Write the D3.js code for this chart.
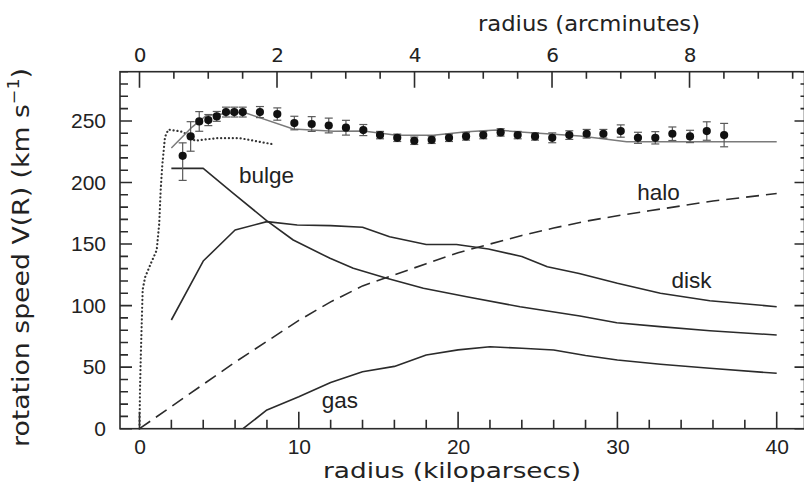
<!DOCTYPE html>
<html><head><meta charset="utf-8">
<script src="https://cdn.jsdelivr.net/npm/d3@7"></script>
<style>body{margin:0;background:#fff}</style>
</head><body>
<svg id="c" width="804" height="504"></svg>
<script>
// ---- tick labels ----
const kpcTicks = [0, 10, 20, 30, 40];
const velTicks = [0, 50, 100, 150, 200, 250];
const arcTicks = [0, 2, 4, 6, 8];

// ---- observed rotation speeds (kpc, km/s) ----
const obsR = [2.71, 3.21, 3.75, 4.32, 4.85, 5.43, 5.95, 6.48, 7.56, 8.65, 9.72, 10.81, 11.88, 12.96, 14.05, 15.10, 16.18, 17.25, 18.34, 19.43, 20.50, 21.58, 22.67, 23.74, 24.83, 25.91, 26.98, 28.07, 29.12, 30.21, 31.29, 32.38, 33.45, 34.56, 35.61, 36.70];
const obsV = [221.7, 237.4, 249.6, 250.7, 253.7, 257.2, 257.2, 257.2, 257.2, 255.6, 248.3, 247.5, 246.3, 244.5, 242.6, 238.5, 236.3, 233.9, 234.7, 236.3, 237.4, 238.5, 240.7, 238.5, 237.4, 236.3, 238.5, 239.6, 239.6, 241.8, 236.3, 236.3, 239.6, 237.4, 241.8, 238.5];
const obsErrHi = [10.5, 12, 8, 4.5, 4, 4, 4, 4, 4.5, 5, 5.5, 6, 6, 6, 4.5, 3, 3, 3, 3, 3, 3, 3, 3, 3, 3, 4, 3.5, 3.5, 3.5, 5, 4.5, 5, 5.5, 5, 7.5, 9.5];
const obsErrLo = [20, 12, 8, 4.5, 4, 4, 4, 4, 4.5, 5, 5.5, 6, 6, 6, 4.5, 3, 3, 3, 3, 3, 3, 3, 3, 3, 3, 4, 3.5, 3.5, 3.5, 5, 4.5, 5, 5.5, 5, 7.5, 9.5];

// ---- model curves ----
const totalR = [2.0, 3.3, 4.2, 6.5, 9.65, 12.2, 14.05, 16.15, 18.44, 20.54, 22.42, 23.68, 25.77, 27.65, 29.33, 30.58, 40.0];
const totalV = [228, 245, 254.5, 257.2, 243.5, 241.6, 241.8, 238.3, 238.3, 241.3, 242.6, 241.3, 239.4, 237.8, 235.1, 233.1, 233.1];

const dottedR = [0, 0.03, 0.08, 0.14, 0.2, 0.35, 0.77, 1.08, 1.24, 1.33, 1.43, 1.6, 1.81, 2.34, 2.75, 3.48, 4.85, 6.31, 8.4];
const dottedV = [0, 31, 58, 86, 113, 123, 136, 145, 167, 194, 214, 237, 243, 242, 241, 234, 236, 236, 231];

const bulgeR = [2.0, 4.0, 5.89, 7.98, 9.65, 11.96, 13.42, 15.52, 17.82, 20.54, 23.89, 27.65, 29.96, 32.67, 35.81, 40.0];
const bulgeV = [211.5, 211.5, 191.2, 169.1, 153.3, 138.4, 130.3, 122.2, 114.1, 107.2, 99.1, 91.6, 86.1, 82.9, 79.6, 76.1];

const diskR = [2.0, 4.0, 6.0, 8.0, 9.9, 12.0, 14.0, 15.7, 18.0, 19.9, 21.9, 24.0, 25.6, 27.6, 30.0, 32.7, 35.8, 40.0];
const diskV = [88.3, 136.2, 161.4, 168.2, 165.5, 165.0, 163.6, 156.0, 149.6, 149.6, 146, 139.9, 131.6, 126.1, 118.1, 110, 104, 99.1];

const gasR = [6.5, 8.0, 10.0, 12.0, 14.0, 16.0, 18.0, 20.0, 22.0, 24.0, 26.0, 28.0, 30.0, 32.7, 35.8, 40.0];
const gasV = [0, 15.2, 26, 37.5, 46.3, 50.6, 59.9, 64.0, 66.6, 65.3, 63.9, 59.5, 55.8, 52.3, 49.1, 45];

const haloR = [0, 2, 4, 6, 8, 10, 12, 14, 16, 18, 20, 22, 24, 26, 28, 30, 32, 34, 36, 38, 40];
const haloV = [0, 18, 36, 54, 71, 88, 103, 116, 125, 134, 143, 150, 157, 163, 168.5, 173, 177, 181, 185, 188, 191];

const compNames = ["bulge", "disk", "halo", "gas"];
const compLabelR = [6.25, 33.4, 31.25, 11.44];
const compLabelV = [199.6, 114, 185.6, 16.6];

const kpcPerArcmin = 4.316;

// ---- layout ----
const svg = d3.select("#c");
const L = 120, R = 804.5, T = 71.7, B = 428.7;
const x = d3.scaleLinear().domain([0, 40]).range([139.5, 776.7]);
const y = d3.scaleLinear().domain([0, 290]).range([B, T]);
const xa = d3.scaleLinear().domain([0, 40 / kpcPerArcmin]).range([139.5, 776.7]);

const ink = "#2b2b2b";
const tickFont = "'Liberation Sans', Arial, sans-serif";
const titleFont = "'DejaVu Sans', sans-serif";

// frame
svg.append("rect").attr("x", L).attr("y", T).attr("width", R - L).attr("height", B - T)
  .attr("fill", "none").attr("stroke", ink).attr("stroke-width", 1.6);

// tick marks (drawn inward, from the scales) as one path
const kpcMinor = d3.range(0, 41, 2).filter(d => d % 10 !== 0);
const velMinor = d3.range(0, 291, 10).filter(d => d % 50 !== 0);
const arcMinor = d3.range(0.5, 9.6, 0.5).filter(d => d % 2 !== 0);
const tp = d3.path();
function tickMarks(vals, scale, side, len) {
  vals.forEach(v => {
    const p = scale(v);
    if (side === "bottom") { tp.moveTo(p, B); tp.lineTo(p, B - len); }
    else if (side === "top") { tp.moveTo(p, T); tp.lineTo(p, T + len); }
    else if (side === "left") { tp.moveTo(L, p); tp.lineTo(L + len, p); }
    else { tp.moveTo(R, p); tp.lineTo(R - len, p); }
  });
}
tickMarks(kpcMinor, x, "bottom", 9);
tickMarks(kpcTicks, x, "bottom", 17);
tickMarks(velMinor, y, "left", 8);
tickMarks(velTicks, y, "left", 12);
tickMarks(velMinor, y, "right", 4);
tickMarks(velTicks, y, "right", 10);
tickMarks(arcMinor, xa, "top", 7);
tickMarks(arcTicks, xa, "top", 16);
svg.append("path").attr("d", tp.toString()).attr("fill", "none")
  .attr("stroke", ink).attr("stroke-width", 1.6);

// tick labels via d3 axes
function labelsOnly(g, font, size) {
  g.select(".domain").remove();
  g.selectAll(".tick line").remove();
  g.selectAll("text").attr("font-family", font).attr("font-size", size).attr("fill", "#222");
}
svg.append("g").attr("transform", `translate(0,${B})`)
  .call(d3.axisBottom(x).tickValues(kpcTicks).tickSize(0).tickPadding(10).tickFormat(d3.format("d")))
  .call(g => labelsOnly(g, tickFont, 21));
svg.append("g").attr("transform", `translate(${L},0)`)
  .call(d3.axisLeft(y).tickValues(velTicks).tickSize(0).tickPadding(14).tickFormat(d3.format("d")))
  .call(g => labelsOnly(g, tickFont, 21));
svg.append("g").attr("transform", `translate(0,${T})`)
  .call(d3.axisTop(xa).tickValues(arcTicks).tickSize(0).tickPadding(10).tickFormat(d3.format("d")))
  .call(g => labelsOnly(g, titleFont, 20));

// curves
const line = d3.line().x(d => x(d[0])).y(d => y(d[1]));
const zip = (a, b) => a.map((v, i) => [v, b[i]]);

svg.append("path").datum(zip(haloR, haloV)).attr("d", line)
  .attr("fill", "none").attr("stroke", ink).attr("stroke-width", 1.6).attr("stroke-dasharray", "13,7");
svg.append("path").datum(zip(dottedR, dottedV)).attr("d", line)
  .attr("fill", "none").attr("stroke", "#333").attr("stroke-width", 2.2).attr("stroke-linecap", "round").attr("stroke-dasharray", "0.1,3.8");
for (const [r, v] of [[bulgeR, bulgeV], [diskR, diskV], [gasR, gasV]]) {
  svg.append("path").datum(zip(r, v)).attr("d", line)
    .attr("fill", "none").attr("stroke", ink).attr("stroke-width", 1.6).attr("stroke-linejoin", "round");
}
svg.append("path").datum(zip(totalR, totalV)).attr("d", line)
  .attr("fill", "none").attr("stroke", "#7a7a7a").attr("stroke-width", 1.5);

// observations
const obs = obsR.map((r, i) => ({ r, v: obsV[i], hi: obsErrHi[i], lo: obsErrLo[i] }));
const eg = svg.append("g").attr("stroke", "#5a5a5a").attr("stroke-width", 1.2);
obs.forEach(d => {
  const cx = x(d.r), y1 = y(d.v + d.hi), y2 = y(d.v - d.lo);
  eg.append("line").attr("x1", cx).attr("x2", cx).attr("y1", y1).attr("y2", y2);
  eg.append("line").attr("x1", cx - 4).attr("x2", cx + 4).attr("y1", y1).attr("y2", y1);
  eg.append("line").attr("x1", cx - 4).attr("x2", cx + 4).attr("y1", y2).attr("y2", y2);
});
svg.append("g").selectAll("circle").data(obs).join("circle")
  .attr("cx", d => x(d.r)).attr("cy", d => y(d.v)).attr("r", 4.1).attr("fill", "#111");

// component labels
svg.append("g").selectAll("text").data(compNames).join("text")
  .attr("x", (d, i) => x(compLabelR[i])).attr("y", (d, i) => y(compLabelV[i]))
  .attr("font-family", tickFont).attr("font-size", 22.5).attr("fill", "#222").text(d => d);

// axis titles
svg.append("text").attr("x", 452).attr("y", 478).attr("text-anchor", "middle")
  .attr("font-family", titleFont).attr("font-size", 22).attr("fill", "#222")
  .attr("textLength", 258).attr("lengthAdjust", "spacingAndGlyphs").text("radius (kiloparsecs)");
svg.append("text").attr("x", 589).attr("y", 31).attr("text-anchor", "middle")
  .attr("font-family", titleFont).attr("font-size", 22).attr("fill", "#222")
  .attr("textLength", 222).attr("lengthAdjust", "spacingAndGlyphs").text("radius (arcminutes)");
const yt = svg.append("text").attr("transform", "translate(29,257.5) rotate(-90)").attr("text-anchor", "middle")
  .attr("font-family", titleFont).attr("font-size", 23).attr("fill", "#222")
  .attr("textLength", 379).attr("lengthAdjust", "spacingAndGlyphs");
yt.append("tspan").text("rotation speed V(R) (km s");
yt.append("tspan").attr("font-size", 15).attr("dy", -10).text("−1");
yt.append("tspan").attr("dy", 10).text(")");
</script>
</body></html>
